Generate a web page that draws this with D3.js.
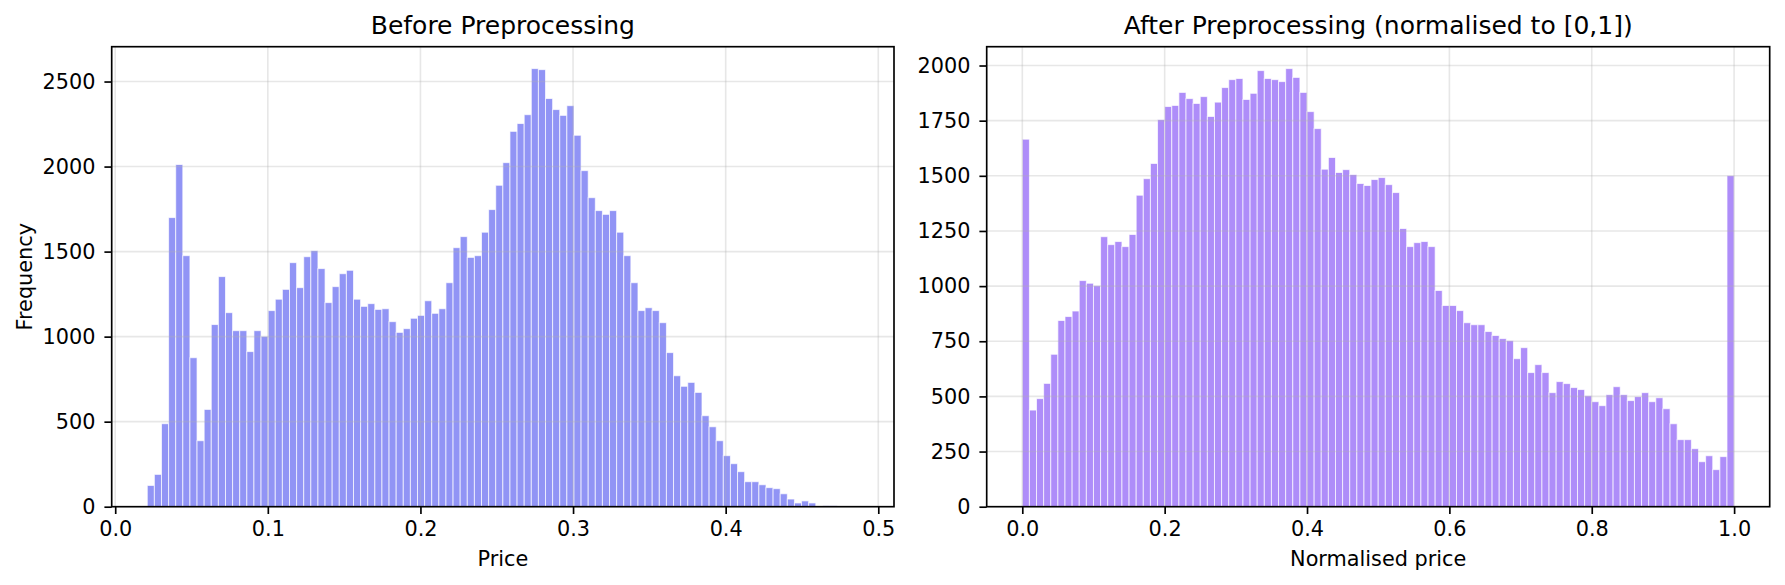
<!DOCTYPE html>
<html>
<head>
<meta charset="utf-8">
<script src="https://cdn.jsdelivr.net/npm/d3@7"></script>
<style>
  html, body { margin: 0; padding: 0; background: #fff; }
  svg { display: block; font-family: "DejaVu Sans", sans-serif; }
</style>
</head>
<body>
<svg id="chart" width="1785" height="585"></svg>
<script>
// ---- Data ----
const beforeRange = [0.021, 0.487];   // min / max price in the raw data
const beforeCounts = [
  125,190,488,1700,2012,1476,876,388,572,1071,
  1353,1141,1035,1035,912,1035,1002,1153,1220,1278,
  1435,1288,1470,1506,1400,1200,1294,1370,1390,1220,
  1178,1194,1160,1164,1088,1025,1047,1108,1125,1211,
  1137,1164,1317,1523,1588,1466,1476,1614,1747,1890,
  2023,2207,2253,2305,2576,2570,2400,2335,2301,2358,
  2184,1976,1817,1741,1719,1741,1614,1476,1317,1153,
  1170,1153,1082,906,770,708,731,672,535,470,
  388,300,253,206,147,147,129,112,106,76,
  45,22,34,22,0,6,6,0,0,2
];
const afterRange = [0, 1];
const afterCounts = [
  1666,438,490,559,691,844,862,887,1025,1013,
  1002,1224,1188,1202,1179,1234,1412,1487,1556,1755,
  1814,1819,1878,1850,1828,1859,1769,1834,1900,1936,
  1941,1846,1874,1977,1941,1936,1927,1986,1946,1878,
  1791,1714,1530,1583,1515,1528,1506,1465,1456,1483,
  1492,1460,1424,1261,1179,1197,1202,1179,980,912,
  912,889,834,825,825,794,776,762,753,671,
  721,608,644,608,517,567,558,540,531,503,
  476,458,508,544,508,481,499,517,476,494,
  444,376,304,304,263,204,231,168,227,1501
];
const beforeXTicks = [0.0, 0.1, 0.2, 0.3, 0.4, 0.5];
const beforeYTicks = [0, 500, 1000, 1500, 2000, 2500];
const afterXTicks = [0.0, 0.2, 0.4, 0.6, 0.8, 1.0];
const afterYTicks = [0, 250, 500, 750, 1000, 1250, 1500, 1750, 2000];
const titles = ["Before Preprocessing", "After Preprocessing (normalised to [0,1])"];
const xLabels = ["Price", "Normalised price"];
const yLabels = ["Frequency", ""];

// ---- Layout ----
const svg = d3.select("#chart");
const plotTop = 46.7, plotBottom = 506.7;
const FS = 20.8, TFS = 25;
const panels = [
  { x0: 111.7, x1: 894.0, counts: beforeCounts, range: beforeRange, xt: beforeXTicks, yt: beforeYTicks,
    color: "#6366f1", title: titles[0], xlabel: xLabels[0], ylabel: yLabels[0] },
  { x0: 986.7, x1: 1769.7, counts: afterCounts, range: afterRange, xt: afterXTicks, yt: afterYTicks,
    color: "#8b5cf6", title: titles[1], xlabel: xLabels[1], ylabel: yLabels[1] }
];

panels.forEach((p, pi) => {
  const n = p.counts.length;
  const [lo, hi] = p.range;
  const pad = 0.05 * (hi - lo);
  const x = d3.scaleLinear().domain([lo - pad, hi + pad]).range([p.x0, p.x1]);
  const y = d3.scaleLinear().domain([0, d3.max(p.counts) * 1.05]).range([plotBottom, plotTop]);
  const bw = (hi - lo) / n;
  const bins = p.counts.map((c, i) => ({ a: lo + i * bw, b: lo + (i + 1) * bw, c }));

  const g = svg.append("g");
  const clipId = "clip" + pi;
  svg.append("clipPath").attr("id", clipId).append("rect")
    .attr("x", p.x0).attr("y", plotTop).attr("width", p.x1 - p.x0).attr("height", plotBottom - plotTop);

  // bars
  g.append("g").attr("clip-path", `url(#${clipId})`).selectAll("rect").data(bins.filter(d => d.c > 0)).join("rect")
    .attr("x", d => x(d.a))
    .attr("width", d => x(d.b) - x(d.a))
    .attr("y", d => y(d.c))
    .attr("height", d => y(0) - y(d.c))
    .attr("fill", p.color).attr("fill-opacity", 0.7)
    .attr("stroke", "#ffffff").attr("stroke-opacity", 0.7).attr("stroke-width", 1);

  // grid (drawn above bars like matplotlib default)
  const grid = g.append("g").attr("clip-path", `url(#${clipId})`);
  grid.selectAll(".gx").data(p.xt).join("line").attr("class", "gx")
    .attr("x1", d => x(d)).attr("x2", d => x(d)).attr("y1", plotTop).attr("y2", plotBottom)
    .attr("stroke", "#b0b0b0").attr("stroke-opacity", 0.3).attr("stroke-width", 1.6);
  grid.selectAll(".gy").data(p.yt).join("line").attr("class", "gy")
    .attr("x1", p.x0).attr("x2", p.x1).attr("y1", d => y(d)).attr("y2", d => y(d))
    .attr("stroke", "#b0b0b0").attr("stroke-opacity", 0.3).attr("stroke-width", 1.6);

  // axes
  const xAxis = d3.axisBottom(x).tickValues(p.xt).tickFormat(d3.format(".1f")).tickSize(7.3).tickPadding(7.6);
  const yAxis = d3.axisLeft(y).tickValues(p.yt).tickFormat(d3.format("d")).tickSize(7.3).tickPadding(9);
  const gx = g.append("g").attr("transform", `translate(0,${plotBottom})`).call(xAxis);
  const gy = g.append("g").attr("transform", `translate(${p.x0},0)`).call(yAxis);
  [gx, gy].forEach(a => {
    a.select(".domain").remove();
    a.selectAll(".tick line").attr("stroke", "#000").attr("stroke-width", 1.67);
    a.selectAll(".tick text").attr("fill", "#000").attr("font-size", FS).attr("font-family", "DejaVu Sans");
  });

  // spines
  g.append("rect").attr("x", p.x0).attr("y", plotTop).attr("width", p.x1 - p.x0).attr("height", plotBottom - plotTop)
    .attr("fill", "none").attr("stroke", "#000").attr("stroke-width", 1.67);

  // title & labels
  g.append("text").attr("x", (p.x0 + p.x1) / 2).attr("y", 34.2).attr("text-anchor", "middle")
    .attr("font-size", TFS).attr("fill", "#000").text(p.title);
  g.append("text").attr("x", (p.x0 + p.x1) / 2).attr("y", 566).attr("text-anchor", "middle")
    .attr("font-size", FS).attr("fill", "#000").text(p.xlabel);
  if (p.ylabel) {
    g.append("text").attr("transform", `translate(32,${(plotTop + plotBottom) / 2}) rotate(-90)`)
      .attr("text-anchor", "middle").attr("font-size", FS).attr("fill", "#000").text(p.ylabel);
  }
});
</script>
</body>
</html>
